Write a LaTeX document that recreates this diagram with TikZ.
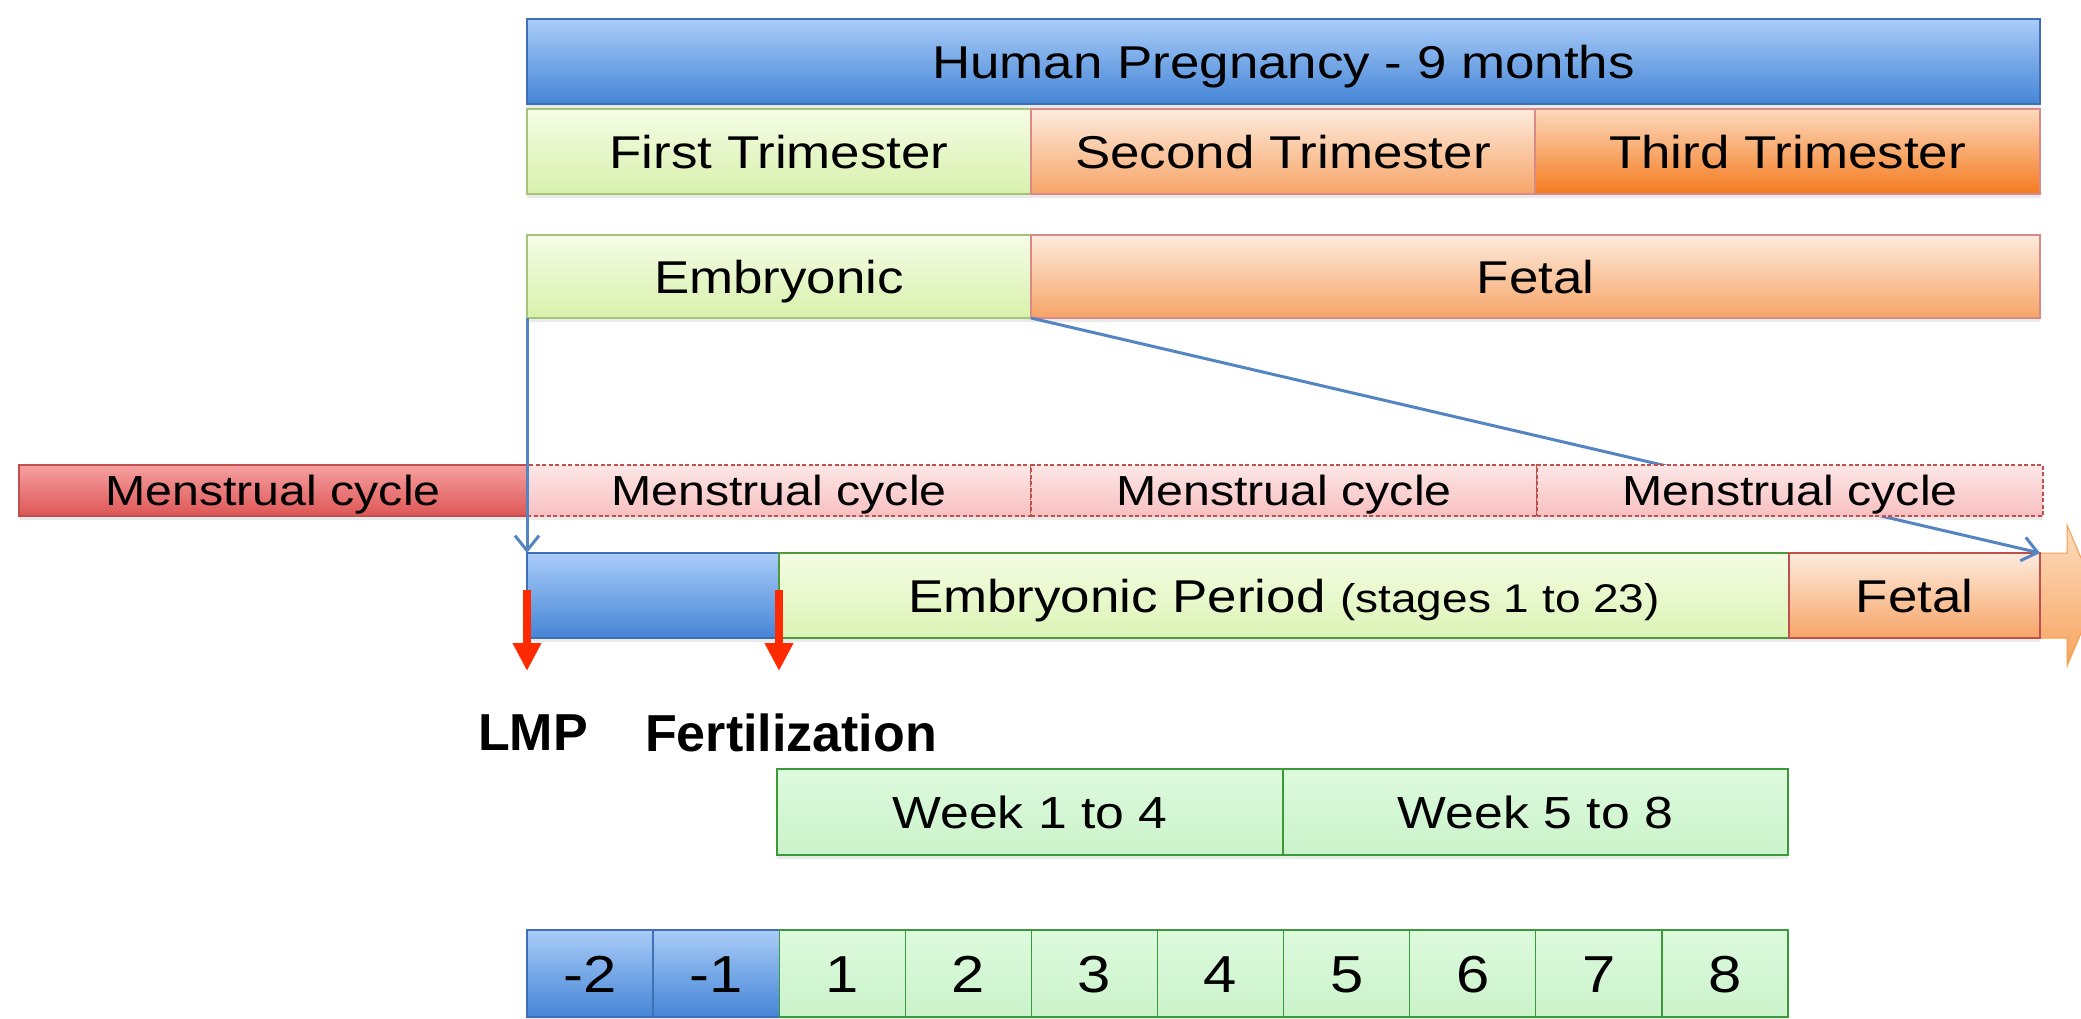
\documentclass[tikz,border=0pt]{standalone}
\usepackage{fontspec}
\setmainfont{Liberation Sans}
\newfontfamily\regf[FakeStretch=1.15]{Liberation Sans}
\usetikzlibrary{shadows,arrows.meta,calc}

\definecolor{bluetop}{HTML}{A9CCF8}
\definecolor{bluebot}{HTML}{4585D6}
\definecolor{blueborder}{HTML}{3F6FB5}
\definecolor{grtop}{HTML}{F5FCE6}
\definecolor{grbot}{HTML}{D8F1AC}
\definecolor{grborder}{HTML}{A5C47A}
\definecolor{eptop}{HTML}{F4FCE2}
\definecolor{epbot}{HTML}{DCF4B6}
\definecolor{epborder}{HTML}{4E9A3A}
\definecolor{petop}{HTML}{FDEBDD}
\definecolor{pebot}{HTML}{F7A467}
\definecolor{peborder}{HTML}{D98A86}
\definecolor{ortop}{HTML}{FCD9BD}
\definecolor{orbot}{HTML}{F47A1E}
\definecolor{redtop}{HTML}{F5A0A0}
\definecolor{redbot}{HTML}{DE5656}
\definecolor{redborder}{HTML}{C0504D}
\definecolor{pinktop}{HTML}{FDE6E6}
\definecolor{pinkbot}{HTML}{F8C0C0}
\definecolor{minttop}{HTML}{DDFADD}
\definecolor{mintbot}{HTML}{CBF3CB}
\definecolor{mintborder}{HTML}{3A9A3A}
\definecolor{connblue}{HTML}{5584C2}
\definecolor{arrred}{HTML}{FF2A00}
\definecolor{bigtop}{HTML}{FCDCC0}
\definecolor{bigbot}{HTML}{F7A45E}

\tikzset{
  bx/.style={draw, line width=1.3pt, inner sep=0pt, outer sep=0pt, anchor=center,
    text=black, font=\regf\fontsize{46}{50}\selectfont, text height=33pt, text depth=0pt,
    drop shadow={opacity=0.16, shadow xshift=0pt, shadow yshift=-4pt}},
  bluebox/.style={bx, draw=blueborder, top color=bluetop, bottom color=bluebot},
  greenbox/.style={bx, draw=grborder, top color=grtop, bottom color=grbot},
  epbox/.style={bx, draw=epborder, top color=eptop, bottom color=epbot},
  peachbox/.style={bx, draw=peborder, top color=petop, bottom color=pebot},
  orangebox/.style={bx, draw=peborder, top color=ortop, bottom color=orbot},
  redbox/.style={bx, draw=redborder, top color=redtop, bottom color=redbot,
    font=\regf\fontsize{42}{46}\selectfont, text height=30pt},
  pinkbox/.style={bx, draw=redborder, line width=1.2pt, dash pattern=on 4pt off 2.5pt,
    top color=pinktop, bottom color=pinkbot, font=\regf\fontsize{42}{46}\selectfont,
    text height=30pt},
  mintbox/.style={bx, draw=mintborder, top color=minttop, bottom color=mintbot,
    font=\regf\fontsize{45}{50}\selectfont, text height=32pt},
  numbox/.style={font=\regf\fontsize{52}{56}\selectfont, text height=37pt},
  conn/.style={draw=connblue, line width=3pt,
    -{Straight Barb[length=15pt,width=24pt]}},
  redarrow/.style={draw=arrred, line width=8pt,
    -{Triangle[length=28pt,width=27pt]}},
  lbl/.style={inner sep=0pt, font=\bfseries\fontsize{52}{56}\selectfont, text=black},
}

\begin{document}
\begin{tikzpicture}[x=1pt,y=-1pt]
\useasboundingbox (0,0) rectangle (2081,1018);
\clip (0,0) rectangle (2081,1018);
\fill[white] (0,0) rectangle (2081,1018);

% top bar
\node[bluebox, minimum width=1513, minimum height=85] (preg) at (1283.5,61.5) {Human Pregnancy - 9 months};

% trimesters
\node[greenbox, minimum width=504, minimum height=85] (tri1) at (779,151.5) {First Trimester};
\node[peachbox, minimum width=504, minimum height=85] (tri2) at (1283,151.5) {Second Trimester};
\node[orangebox, minimum width=505, minimum height=85] (tri3) at (1787.5,151.5) {Third Trimester};

% embryonic / fetal
\node[greenbox, minimum width=504, minimum height=83] (emb) at (779,276.5) {Embryonic};
\node[peachbox, minimum width=1009, minimum height=83] (fet) at (1535.5,276.5) {Fetal};

% big orange arrow behind the period row
\shade[top color=bigtop, bottom color=bigbot, draw=bigbot!80!orange, line width=1pt]
  (527,553) -- (2067,553) -- (2067,525) -- (2097,595.5) -- (2067,666) -- (2067,638) -- (527,638) -- cycle;

% period row
\node[bluebox, minimum width=252, minimum height=85] (pre) at (653,595.5) {};
\node[epbox, minimum width=1010, minimum height=85] (embp) at (1284,595.5)
  {Embryonic Period {\fontsize{40}{44}\selectfont(stages 1 to 23)}};
\node[peachbox, draw=redborder, minimum width=251, minimum height=85] (fetp) at (1914.5,595.5) {Fetal};

% diagonal connector (passes behind the menstrual row)
\draw[conn] (emb.south east) -- (fetp.north east);

% menstrual row
\node[redbox, minimum width=508, minimum height=51] (mc0) at (273,490.5) {Menstrual cycle};
\node[pinkbox, minimum width=504, minimum height=51] (mc1) at (779,490.5) {Menstrual cycle};
\node[pinkbox, minimum width=506, minimum height=51] (mc2) at (1284,490.5) {Menstrual cycle};
\node[pinkbox, minimum width=506, minimum height=51] (mc3) at (1790,490.5) {Menstrual cycle};

% vertical connector
\draw[conn] (emb.south west) -- (pre.north west);

% red arrows
\coordinate (lmpA) at (527,590);
\coordinate (lmpB) at (527,671);
\coordinate (ferA) at (779,590);
\coordinate (ferB) at (779,671);
\draw[redarrow] (lmpA) -- (lmpB);
\draw[redarrow] (ferA) -- (ferB);

% labels
\node[lbl] (lmp) at (533,733) {LMP};
\node[lbl] (fert) at (791,733) {Fertilization};

% weeks
\node[mintbox, minimum width=506, minimum height=86] (wk1) at (1030,812) {Week 1 to 4};
\node[mintbox, minimum width=505, minimum height=86] (wk2) at (1535.5,812) {Week 5 to 8};

% week number cells
\foreach \i/\t in {0/-2,1/-1}{
  \node[bluebox, numbox, minimum width=126.1, minimum height=87] (c\i) at ({527+63.05+126.1*\i},973.5) {\t};
}
\foreach \i/\t in {2/1,3/2,4/3,5/4,6/5,7/6,8/7,9/8}{
  \node[mintbox, numbox, minimum width=126.1, minimum height=87] (c\i) at ({527+63.05+126.1*\i},973.5) {\t};
}
\end{tikzpicture}
\end{document}
